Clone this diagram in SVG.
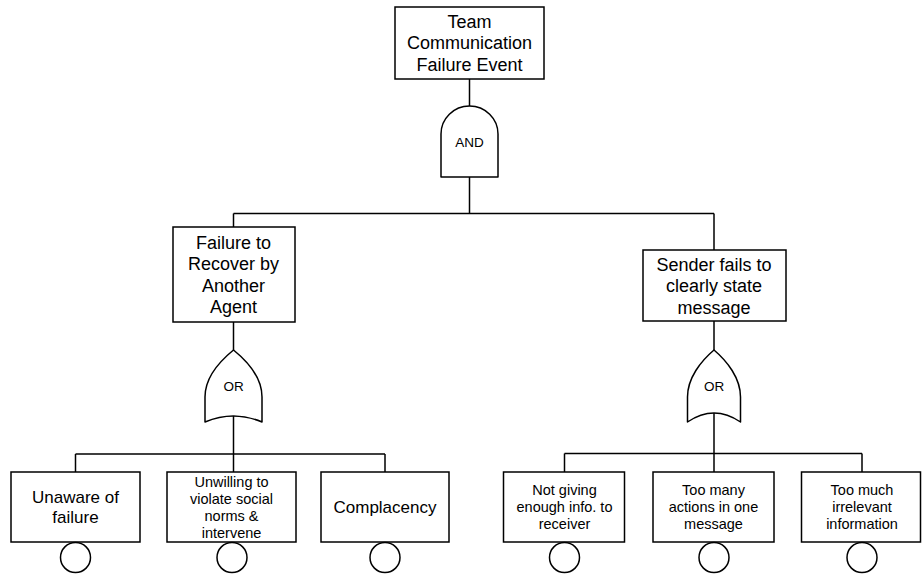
<svg xmlns="http://www.w3.org/2000/svg" width="922" height="574" viewBox="0 0 922 574">
<style>
  .box{fill:#fff;stroke:#000;stroke-width:1.5}
  .gate{fill:#fff;stroke:#000;stroke-width:1.5;stroke-linejoin:round}
  .basic{fill:#fff;stroke:#000;stroke-width:1.5}
  .conn{fill:none;stroke:#000;stroke-width:1.5}
  text{font-family:"Liberation Sans",Arial,Helvetica,sans-serif;fill:#000;text-anchor:middle}
  .big{font-size:18px}
  .mid{font-size:17px}
  .small{font-size:14.5px}
  .glabel{font-size:13.5px}
</style>
<rect width="922" height="574" fill="#fff"/>
<g id="connectors">
  <path class="conn" d="M469.5,79 V106"/>
  <path class="conn" d="M469.5,177 V213.5"/>
  <path class="conn" d="M233.5,213.5 H714"/>
  <path class="conn" d="M233.5,213.5 V227"/>
  <path class="conn" d="M714,213.5 V250"/>
  <path class="conn" d="M233.5,322 V350"/>
  <path class="conn" d="M714,321 V350"/>
  <path class="conn" d="M233.5,416 V472"/>
  <path class="conn" d="M75.5,454 H385 M75.5,454 V472 M385,454 V472"/>
  <path class="conn" d="M714,413 V472"/>
  <path class="conn" d="M564.5,453.5 H862 M564.5,453.5 V472 M862,453.5 V472"/>
</g>
<g id="top-event">
  <rect class="box" x="395" y="7" width="149" height="72"/>
  <text class="big" x="469.5" y="27.5">Team</text>
  <text class="big" x="469.5" y="49">Communication</text>
  <text class="big" x="469.5" y="70.5">Failure Event</text>
</g>
<g id="and-gate">
  <path class="gate" d="M441,177 L441,134 A28.5,28 0 0 1 498,134 L498,177 Z"/>
  <text class="glabel" x="469.5" y="146.5">AND</text>
</g>
<g id="failure-to-recover">
  <rect class="box" x="173" y="227" width="122" height="95"/>
  <text class="big" x="233.5" y="248.5">Failure to</text>
  <text class="big" x="233.5" y="270">Recover by</text>
  <text class="big" x="233.5" y="291.5">Another</text>
  <text class="big" x="233.5" y="313">Agent</text>
</g>
<g id="sender-fails">
  <rect class="box" x="643" y="250" width="143" height="71"/>
  <text class="big" x="714" y="270.5">Sender fails to</text>
  <text class="big" x="714" y="292">clearly state</text>
  <text class="big" x="714" y="313.5">message</text>
</g>
<g id="or-gate-left">
  <path class="gate" d="M233.5,350 C220,361 205,378 205,397 L205,422 Q233.5,410 262,422 L262,397 C262,378 247,361 233.5,350 Z"/>
  <text class="glabel" x="233.5" y="391">OR</text>
</g>
<g id="or-gate-right">
  <path class="gate" d="M714,350 C701,361 687.5,378 687.5,397 L687.5,422 Q714,404 740.5,422 L740.5,397 C740.5,378 727,361 714,350 Z"/>
  <text class="glabel" x="714" y="391">OR</text>
</g>
<g id="unaware">
  <rect class="box" x="11" y="472" width="129" height="70"/>
  <text class="mid" x="75.5" y="503">Unaware of</text>
  <text class="mid" x="75.5" y="523">failure</text>
  <circle class="basic" cx="75.5" cy="557.5" r="15"/>
</g>
<g id="unwilling">
  <rect class="box" x="167" y="472" width="129" height="70"/>
  <text class="small" x="231.5" y="486.5">Unwilling to</text>
  <text class="small" x="231.5" y="503.5">violate social</text>
  <text class="small" x="231.5" y="520.5">norms &amp;</text>
  <text class="small" x="231.5" y="537.5">intervene</text>
  <circle class="basic" cx="232" cy="557.5" r="15"/>
</g>
<g id="complacency">
  <rect class="box" x="321" y="472" width="128" height="70"/>
  <text class="mid" x="385" y="513">Complacency</text>
  <circle class="basic" cx="385" cy="557.5" r="15"/>
</g>
<g id="not-giving">
  <rect class="box" x="503.5" y="472" width="121" height="70"/>
  <text class="small" x="564.5" y="495">Not giving</text>
  <text class="small" x="564.5" y="512">enough info. to</text>
  <text class="small" x="564.5" y="529">receiver</text>
  <circle class="basic" cx="564.5" cy="557.5" r="15"/>
</g>
<g id="too-many">
  <rect class="box" x="653" y="472" width="121" height="70"/>
  <text class="small" x="713.5" y="495">Too many</text>
  <text class="small" x="713.5" y="512">actions in one</text>
  <text class="small" x="713.5" y="529">message</text>
  <circle class="basic" cx="714" cy="557.5" r="15"/>
</g>
<g id="too-much">
  <rect class="box" x="801.5" y="472" width="119" height="70"/>
  <text class="small" x="862" y="495">Too much</text>
  <text class="small" x="862" y="512">irrelevant</text>
  <text class="small" x="862" y="529">information</text>
  <circle class="basic" cx="862" cy="557.5" r="15"/>
</g>
</svg>
